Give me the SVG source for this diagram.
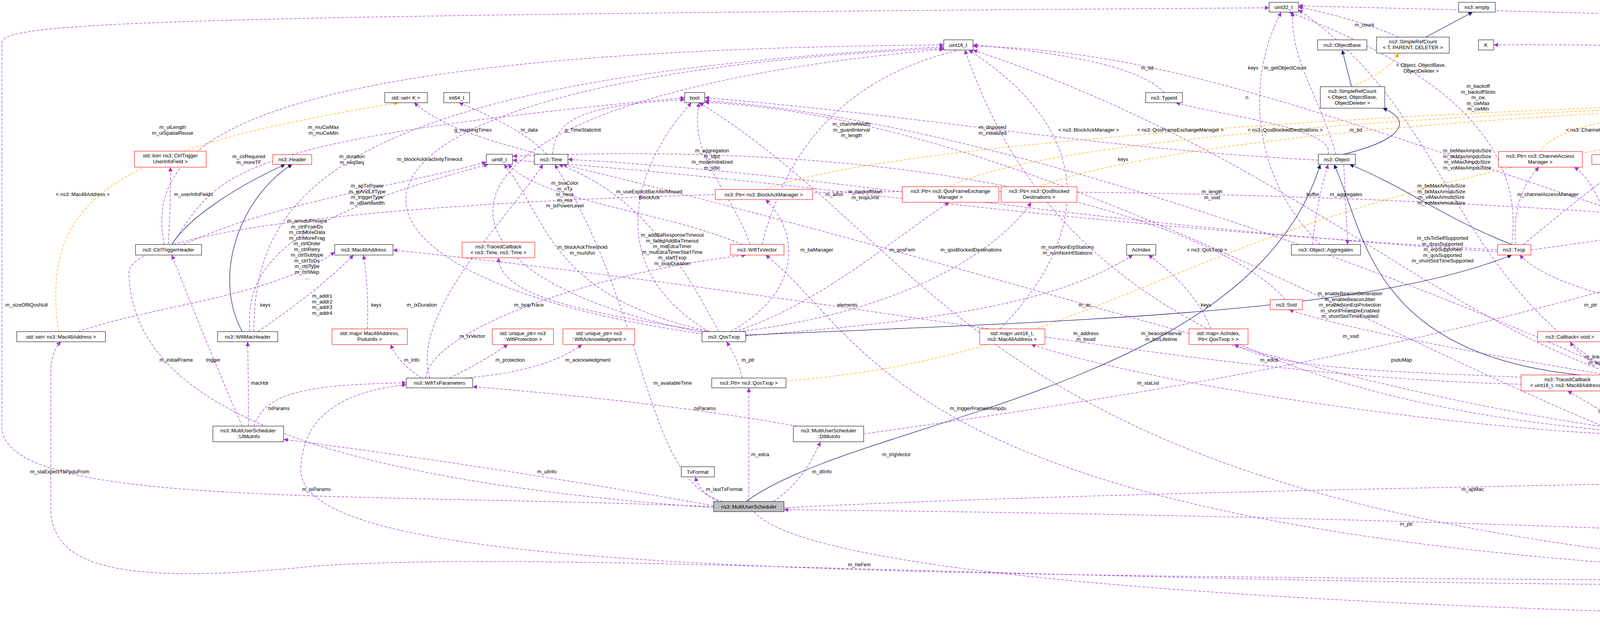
<svg xmlns="http://www.w3.org/2000/svg" width="6667" height="1613" viewBox="0 0 6667 1613">
<style>
text{font-family:"Liberation Sans",Arial,sans-serif;font-size:13px;fill:#000}
.nd text{text-anchor:middle}
.nd rect{fill:#fff;stroke:#333;stroke-width:1.3}
.rd rect{stroke:#ff2a2a}
.gr rect{fill:#bfbfbf}
.lb text{text-anchor:middle}
.p{fill:none;stroke:#9a32cd;stroke-width:1.2;stroke-dasharray:7,4;marker-end:url(#mp)}
.o{fill:none;stroke:#ffa500;stroke-width:1.2;stroke-dasharray:7,4;marker-end:url(#mo)}
.s{fill:none;stroke:#191970;stroke-width:1.3;marker-end:url(#ms)}
</style>
<defs>
<marker id="mp" viewBox="0 0 10 10" refX="10" refY="5" markerWidth="11" markerHeight="11" markerUnits="userSpaceOnUse" orient="auto"><path d="M0 0L10 5L0 10z" fill="#9a32cd"/></marker>
<marker id="mo" viewBox="0 0 10 10" refX="10" refY="5" markerWidth="11" markerHeight="11" markerUnits="userSpaceOnUse" orient="auto"><path d="M0 0L10 5L0 10z" fill="#ffa500"/></marker>
<marker id="ms" viewBox="0 0 10 10" refX="10" refY="5" markerWidth="11" markerHeight="11" markerUnits="userSpaceOnUse" orient="auto"><path d="M0 0L10 5L0 10z" fill="#191970"/></marker>
</defs>
<rect width="6667" height="1613" fill="#fff"/>
<g id="connectors">
<path class="p" d="M431 626Q438 497 436 428"/>
<path class="p" d="M420 626C380 400 500 130 2416 115"/>
<path class="p" d="M440 626C560 450 560 360 1753 250"/>
<path class="p" d="M470 626C700 520 1000 480 1245 415"/>
<path class="p" d="M640 849C620 650 800 540 1250 421"/>
<path class="p" d="M650 849C650 500 850 200 2416 120"/>
<path class="p" d="M660 849Q820 740 905 653"/>
<path class="p" d="M200 849C400 780 700 760 857 645"/>
<path class="p" d="M940 842Q945 760 931 653"/>
<path class="p" d="M1800 855C700 700 700 200 2416 124"/>
<path class="p" d="M1805 852C1000 700 1000 250 2416 126"/>
<path class="p" d="M1827 1297C900 1260 30 1300 5 1100L5 110C5 60 300 40 3249 20"/>
<path class="p" d="M1100 968C1050 800 1300 560 1390 421"/>
<path class="p" d="M1810 849C1500 800 1280 760 1276 660"/>
<path class="p" d="M1900 626C1700 540 1400 520 1300 421"/>
<path class="p" d="M1920 626C1880 500 1760 400 1790 263"/>
<path class="p" d="M1950 626C2000 450 2100 200 2491 120"/>
<path class="p" d="M1400 395Q1340 330 1175 263"/>
<path class="p" d="M1415 395C1420 300 1500 270 1753 255"/>
<path class="p" d="M1380 395C1300 370 1150 340 1060 263"/>
<path class="p" d="M1815 849C1560 700 1600 450 1770 263"/>
<path class="p" d="M1820 849C1400 760 1400 550 1290 421"/>
<path class="p" d="M1840 849C1760 700 1650 500 1430 421"/>
<path class="p" d="M1870 849C2050 750 2050 600 1960 511"/>
<path class="p" d="M3834 640C2500 560 2160 470 1312 410"/>
<path class="p" d="M3834 645C2600 560 2200 450 1454 408"/>
<path class="p" d="M3375 410C2800 380 2400 300 1804 250"/>
<path class="p" d="M3870 626C3900 400 3750 200 3300 31"/>
<path class="p" d="M1880 849C2100 780 2300 600 2430 518"/>
<path class="p" d="M1890 849C2300 800 2550 650 2640 518"/>
<path class="p" d="M4149 1105C2900 1000 2600 500 2470 128"/>
<path class="p" d="M1909 860C2400 820 2700 780 2900 653"/>
<path class="p" d="M3100 842Q3060 740 2940 653"/>
<path class="p" d="M2560 842C2700 700 2900 400 2480 128"/>
<path class="p" d="M2980 237Q2900 150 2491 115"/>
<path class="p" d="M3290 767C3150 600 2500 350 1312 400"/>
<path class="p" d="M4380 620C3400 300 3000 130 2491 118"/>
<path class="p" d="M3580 95Q3480 50 3324 18"/>
<path class="p" d="M3380 626C3200 450 3190 200 3280 31"/>
<path class="p" d="M3420 395C3380 250 3300 150 3310 31"/>
<path class="p" d="M3400 395C3420 330 3150 300 3010 263"/>
<path class="p" d="M3440 421Q3445 520 3450 626"/>
<path class="p" d="M3360 626Q3370 520 3400 421"/>
<path class="p" d="M4160 975C3700 700 3720 300 3324 25"/>
<path class="p" d="M4165 970C3650 800 3300 400 2491 128"/>
<path class="p" d="M4170 968C3600 700 2500 300 1804 258"/>
<path class="p" d="M4150 1110C3500 850 2600 300 1804 262"/>
<path class="p" d="M3880 626Q3870 500 3940 428"/>
<path class="p" d="M3900 626Q4050 500 4160 421"/>
<path class="p" d="M4680 849C4300 800 4000 760 3890 653"/>
<path class="p" d="M4180 968C4150 800 4140 500 4030 428"/>
<path class="p" d="M4220 968C4300 800 4260 550 4200 421"/>
<path class="p" d="M4449 620Q4449 520 4449 421"/>
<path class="p" d="M3919 640C4200 600 4550 560 4640 428"/>
<path class="p" d="M4263 975C4800 900 5450 800 5690 518"/>
<path class="p" d="M5190 237Q5400 180 5600 120"/>
<path class="p" d="M5995 240C5500 160 4500 110 3824 115"/>
<path class="p" d="M6000 230Q5850 170 5634 120"/>
<path class="p" d="M6290 968C6400 900 6442 800 6442 700L6442 120C6442 110 6000 80 3324 15"/>
<path class="p" d="M1090 968C1100 850 1500 700 1910 653"/>
<path class="p" d="M1150 968Q1230 930 1300 882"/>
<path class="p" d="M1190 968Q1400 950 1490 882"/>
<path class="p" d="M1080 968Q1020 930 1000 882"/>
<path class="p" d="M620 1091Q520 860 440 653"/>
<path class="p" d="M636 1091Q636 980 634 875"/>
<path class="p" d="M650 1091C680 1000 800 985 1040 980"/>
<path class="p" d="M1827 1300C700 1220 340 1000 330 700C320 380 6080 380 6080 1026"/>
<path class="p" d="M5263 1495C3000 1520 1500 1400 800 1450C300 1500 130 1450 130 1300L130 950C130 920 140 890 156 875"/>
<path class="p" d="M2040 1091Q1700 1030 1210 990"/>
<path class="p" d="M1827 1295Q1300 1200 726 1125"/>
<path class="p" d="M1980 1284Q2060 1230 2100 1131"/>
<path class="p" d="M1840 1284Q1790 1260 1780 1221"/>
<path class="p" d="M1917 1284Q1917 1140 1917 993"/>
<path class="p" d="M1900 968Q1890 920 1860 875"/>
<path class="p" d="M1850 1284C1650 1230 1660 800 1420 421"/>
<path class="p" d="M1930 1310C2050 1450 3000 1560 5260 1590"/>
<path class="p" d="M4149 1112C3800 1100 3000 1000 2640 882"/>
<path class="p" d="M4160 980C3700 950 3300 960 3160 882"/>
<path class="p" d="M4160 985C3200 1000 2500 800 1006 640"/>
<path class="p" d="M4160 1100C3400 1000 2600 700 1440 421"/>
<path class="p" d="M5263 1490C2500 1420 2500 700 1790 263"/>
<path class="p" d="M5263 1485C2300 1460 2270 900 1960 653"/>
<path class="p" d="M4165 968Q3500 860 3300 793"/>
<path class="p" d="M2211 1111C3000 1000 3600 900 4400 660"/>
<path class="p" d="M4190 968Q4050 930 4020 875"/>
<path class="p" d="M4220 968Q4180 920 4180 875"/>
<path class="p" d="M4170 1098Q4100 1050 4013 1001"/>
<path class="p" d="M2007 1300C3000 1250 4500 1240 5062 1215"/>
<path class="p" d="M5100 1195Q4800 1150 4272 1118"/>
<path class="p" d="M4962 1390Q3600 1320 2007 1305"/>
<path class="p" d="M5460 1478C5550 1400 5500 1300 5265 1221"/>
<path class="p" d="M4263 980Q4400 860 4550 793"/>
<path class="p" d="M4263 975Q4550 880 4780 801"/>
<path class="p" d="M4263 985Q4550 950 4700 875"/>
<path class="p" d="M4272 1100Q4600 1000 4720 875"/>
<path class="p" d="M4263 990Q4800 900 5050 793"/>
<path class="p" d="M4263 995Q5000 920 5250 793"/>
<path class="p" d="M4272 1105C5300 1000 5600 700 4750 428"/>
<path class="p" d="M4272 1108C5200 1050 5700 800 5920 533"/>
<path class="p" d="M5380 1478Q5280 1430 5100 1414"/>
<path class="p" d="M5400 1478Q5460 1440 5475 1407"/>
<path class="p" d="M5495 1485C5800 1450 5740 900 4500 660"/>
<path class="p" d="M5495 1488C6000 1450 6020 1150 6020 934"/>
<path class="p" d="M5495 1490C6100 1450 6120 1200 6120 1066"/>
<path class="p" d="M5495 1492C6250 1450 6262 1200 6262 993"/>
<path class="p" d="M4272 1112C5000 1100 5800 1000 6211 980"/>
<path class="p" d="M5379 1567L5379 1504"/>
<path class="p" d="M5263 1492C2500 1470 760 1500 770 1200C775 1050 900 1000 1040 985"/>
<path class="o" d="M150 849C100 500 300 380 1020 263"/>
<path class="o" d="M3460 222Q3560 180 3580 136"/>
<path class="o" d="M1960 485C2300 350 4000 260 5103 250"/>
<path class="o" d="M2430 478C2700 340 4000 270 5103 252"/>
<path class="o" d="M2660 478C3000 350 4000 275 5103 254"/>
<path class="o" d="M2012 975C3000 900 3050 400 5130 263"/>
<path class="o" d="M3944 388C4000 280 4500 260 5103 256"/>
<path class="o" d="M4185 396C4300 300 4700 265 5103 258"/>
<path class="o" d="M4450 396C4460 300 4800 265 5103 260"/>
<path class="o" d="M4600 388C4560 300 4800 270 5110 263"/>
<path class="o" d="M4560 767C4800 550 4950 350 5130 263"/>
<path class="o" d="M4800 761C4950 550 5100 350 5150 263"/>
<path class="o" d="M4520 620C5000 500 5600 380 6020 270"/>
<path class="o" d="M4780 849C5000 650 5300 450 5180 263"/>
<path class="o" d="M5100 767C5600 600 5700 300 5212 255"/>
<path class="o" d="M5300 767C5750 600 5800 300 5212 258"/>
<path class="o" d="M5700 478C5900 400 5900 280 5212 250"/>
<path class="o" d="M6039 470C6150 400 6180 330 6140 270"/>
<path class="o" d="M6030 908C5950 600 5900 300 5212 252"/>
<path class="o" d="M6140 1026C6200 700 6100 320 5212 254"/>
<path class="o" d="M5200 1195C5900 1000 5850 400 5212 249"/>
<path class="o" d="M5142 1380C5900 1100 6000 400 5212 247"/>
<path class="o" d="M5499 1580C6300 1560 6430 900 5212 245"/>
<path class="s" d="M440 626C480 560 600 480 730 421"/>
<path class="s" d="M620 849C540 700 620 500 748 421"/>
<path class="s" d="M3650 95L3770 31"/>
<path class="s" d="M3460 222L3436 128"/>
<path class="s" d="M3440 395C3620 350 3600 300 3540 277"/>
<path class="s" d="M3870 626C3700 560 3600 480 3455 421"/>
<path class="s" d="M1909 858C2800 820 3500 800 3870 653"/>
<path class="s" d="M4170 968C3500 950 3500 600 3415 421"/>
<path class="s" d="M4210 1098L4210 993"/>
<path class="s" d="M1910 1284C2200 1070 3200 1000 3380 421"/>
<path class="s" d="M5345 1478L5283 1407"/>
</g>
<g class="lb">
<text x="495" y="502">m_userInfoFields</text>
<text x="442" y="330"><tspan x="442">m_ulLength</tspan><tspan x="442" dy="14.5">m_ulSpatialReuse</tspan></text>
<text x="637" y="405"><tspan x="637">m_csRequired</tspan><tspan x="637" dy="14.5">m_moreTF</tspan></text>
<text x="940" y="480"><tspan x="940">m_apTxPower</tspan><tspan x="940" dy="14.5">m_giAndLtfType</tspan><tspan x="940" dy="14.5">m_triggerType</tspan><tspan x="940" dy="14.5">m_ulBandwidth</tspan></text>
<text x="786" y="570"><tspan x="786">m_amsduPresent</tspan><tspan x="786" dy="14.5">m_ctrlFromDs</tspan><tspan x="786" dy="14.5">m_ctrlMoreData</tspan><tspan x="786" dy="14.5">m_ctrlMoreFrag</tspan><tspan x="786" dy="14.5">m_ctrlOrder</tspan><tspan x="786" dy="14.5">m_ctrlRetry</tspan><tspan x="786" dy="14.5">m_ctrlSubtype</tspan><tspan x="786" dy="14.5">m_ctrlToDs</tspan><tspan x="786" dy="14.5">m_ctrlType</tspan><tspan x="786" dy="14.5">m_ctrlWep</tspan><tspan x="786" dy="14.5">...</tspan></text>
<text x="901" y="405"><tspan x="901">m_duration</tspan><tspan x="901" dy="14.5">m_seqSeq</tspan></text>
<text x="825" y="762"><tspan x="825">m_addr1</tspan><tspan x="825" dy="14.5">m_addr2</tspan><tspan x="825" dy="14.5">m_addr3</tspan><tspan x="825" dy="14.5">m_addr4</tspan></text>
<text x="679" y="785">keys</text>
<text x="963" y="785">keys</text>
<text x="828" y="330"><tspan x="828">m_muCwMax</tspan><tspan x="828" dy="14.5">m_muCwMin</tspan></text>
<text x="1100" y="412">m_blockAckInactivityTimeout</text>
<text x="68" y="785">m_sizeOf8QosNull</text>
<text x="1080" y="785">m_txDuration</text>
<text x="1354" y="785">m_txopTrace</text>
<text x="1446" y="473"><tspan x="1446">m_bssColor</tspan><tspan x="1446" dy="14.5">m_nTx</tspan><tspan x="1446" dy="14.5">m_ness</tspan><tspan x="1446" dy="14.5">m_nss</tspan><tspan x="1446" dy="14.5">m_txPowerLevel</tspan></text>
<text x="1823" y="390"><tspan x="1823">m_aggregation</tspan><tspan x="1823" dy="14.5">m_ldpc</tspan><tspan x="1823" dy="14.5">m_modeInitialized</tspan><tspan x="1823" dy="14.5">m_stbc</tspan></text>
<text x="2180" y="322"><tspan x="2180">m_channelWidth</tspan><tspan x="2180" dy="14.5">m_guardInterval</tspan><tspan x="2180" dy="14.5">m_length</tspan></text>
<text x="1355" y="337">m_data</text>
<text x="1492" y="337">g_TimeStaticInit</text>
<text x="1211" y="337">g_markingTimes</text>
<text x="1662" y="495"><tspan x="1662">m_useExplicitBarAfterMissed</tspan><tspan x="1662" dy="14.5">BlockAck</tspan></text>
<text x="1491" y="637"><tspan x="1491">m_blockAckThreshold</tspan><tspan x="1491" dy="14.5">m_muAifsn</tspan></text>
<text x="1721" y="606"><tspan x="1721">m_addBaResponseTimeout</tspan><tspan x="1721" dy="14.5">m_failedAddBaTimeout</tspan><tspan x="1721" dy="14.5">m_muEdcaTimer</tspan><tspan x="1721" dy="14.5">m_muEdcaTimerStartTime</tspan><tspan x="1721" dy="14.5">m_startTxop</tspan><tspan x="1721" dy="14.5">m_txopDuration</tspan></text>
<text x="2091" y="644">m_baManager</text>
<text x="2136" y="502">m_aifsn</text>
<text x="2215" y="495"><tspan x="2215">m_backoffStart</tspan><tspan x="2215" dy="14.5">m_txopLimit</tspan></text>
<text x="2169" y="785">elements</text>
<text x="2541" y="330"><tspan x="2541">m_disposed</tspan><tspan x="2541" dy="14.5">m_initialized</tspan></text>
<text x="3784" y="225"><tspan x="3784">m_backoff</tspan><tspan x="3784" dy="14.5">m_backoffSlots</tspan><tspan x="3784" dy="14.5">m_cw</tspan><tspan x="3784" dy="14.5">m_cwMax</tspan><tspan x="3784" dy="14.5">m_cwMin</tspan></text>
<text x="2310" y="644">m_qosFem</text>
<text x="2486" y="644">m_qosBlockedDestinations</text>
<text x="2733" y="637"><tspan x="2733">m_numNonErpStations</tspan><tspan x="2733" dy="14.5">m_numNonHtStations</tspan></text>
<text x="2777" y="785">m_ac</text>
<text x="3087" y="785">keys</text>
<text x="2875" y="412">keys</text>
<text x="2937" y="178">m_tid</text>
<text x="3103" y="495"><tspan x="3103">m_length</tspan><tspan x="3103" dy="14.5">m_ssid</tspan></text>
<text x="3208" y="178">keys</text>
<text x="3493" y="68">m_count</text>
<text x="3192" y="254">n</text>
<text x="3290" y="178">m_getObjectCount</text>
<text x="3471" y="337">m_tid</text>
<text x="3446" y="502">m_aggregates</text>
<text x="3361" y="502">buffer</text>
<text x="3756" y="390"><tspan x="3756">m_beMaxAmpduSize</tspan><tspan x="3756" dy="14.5">m_bkMaxAmpduSize</tspan><tspan x="3756" dy="14.5">m_viMaxAmpduSize</tspan><tspan x="3756" dy="14.5">m_voMaxAmpduSize</tspan></text>
<text x="3690" y="480"><tspan x="3690">m_beMaxAmsduSize</tspan><tspan x="3690" dy="14.5">m_bkMaxAmsduSize</tspan><tspan x="3690" dy="14.5">m_viMaxAmsduSize</tspan><tspan x="3690" dy="14.5">m_voMaxAmsduSize</tspan></text>
<text x="3693" y="614"><tspan x="3693">m_ctsToSelfSupported</tspan><tspan x="3693" dy="14.5">m_dsssSupported</tspan><tspan x="3693" dy="14.5">m_erpSupported</tspan><tspan x="3693" dy="14.5">m_qosSupported</tspan><tspan x="3693" dy="14.5">m_shortSlotTimeSupported</tspan></text>
<text x="3456" y="756"><tspan x="3456">m_enableBeaconGeneration</tspan><tspan x="3456" dy="14.5">m_enableBeaconJitter</tspan><tspan x="3456" dy="14.5">m_enableNonErpProtection</tspan><tspan x="3456" dy="14.5">m_shortPreambleEnabled</tspan><tspan x="3456" dy="14.5">m_shortSlotTimeEnabled</tspan></text>
<text x="3963" y="502">m_channelAccessManager</text>
<text x="4169" y="502">m_txMiddle</text>
<text x="4072" y="785">m_ptr</text>
<text x="4218" y="785">m_channelAccessManager</text>
<text x="4358" y="785">m_txMiddle</text>
<text x="4472" y="502">elements</text>
<text x="4641" y="502">m_rng</text>
<text x="5555" y="785">m_stationManager</text>
<text x="5476" y="178">m_ptr</text>
<text x="5730" y="178">keys</text>
<text x="5890" y="178">elements</text>
<text x="6480" y="405"><tspan x="6480">m_context</tspan><tspan x="6480" dy="14.5">m_uid</tspan></text>
<text x="1209" y="865">m_txVector</text>
<text x="1306" y="926">m_protection</text>
<text x="1505" y="926">m_acknowledgment</text>
<text x="1054" y="926">m_info</text>
<text x="451" y="926">m_initialFrame</text>
<text x="546" y="926">trigger</text>
<text x="665" y="985">macHdr</text>
<text x="714" y="1050">txParams</text>
<text x="153" y="1212">m_staExpectTbPpduFrom</text>
<text x="810" y="1257">m_txParams</text>
<text x="1805" y="1050">txParams</text>
<text x="1400" y="1212">m_ulInfo</text>
<text x="2104" y="1212">m_dlInfo</text>
<text x="1854" y="1257">m_lastTxFormat</text>
<text x="1946" y="1168">m_edca</text>
<text x="1915" y="926">m_ptr</text>
<text x="1722" y="985">m_availableTime</text>
<text x="2200" y="1450">m_heFem</text>
<text x="2939" y="985">m_staList</text>
<text x="3249" y="926">m_edca</text>
<text x="2780" y="858"><tspan x="2780">m_address</tspan><tspan x="2780" dy="14.5">m_bssid</tspan></text>
<text x="2973" y="858"><tspan x="2973">m_beaconInterval</tspan><tspan x="2973" dy="14.5">m_bsrLifetime</tspan></text>
<text x="2504" y="1050">m_triggerFrameInAmpdu</text>
<text x="2295" y="1168">m_trigVector</text>
<text x="3458" y="865">m_ssid</text>
<text x="3588" y="926">psduMap</text>
<text x="4093" y="918"><tspan x="4093">m_linkDown</tspan><tspan x="4093" dy="14.5">m_linkUp</tspan></text>
<text x="4204" y="926">m_typeOfStation</text>
<text x="4146" y="1043"><tspan x="4146">m_assocLogger</tspan><tspan x="4146" dy="14.5">m_deAssocLogger</tspan></text>
<text x="3770" y="1257">m_apMac</text>
<text x="4795" y="1168">m_ptr</text>
<text x="3600" y="1346">m_ptr</text>
<text x="5555" y="1346">m_apMac</text>
<text x="4420" y="865">m_rxMiddle</text>
<text x="4583" y="865">m_feManager</text>
<text x="4653" y="926">m_txop</text>
<text x="4698" y="985">m_beaconTxop</text>
<text x="4949" y="865">m_device</text>
<text x="5134" y="865">m_phy</text>
<text x="5530" y="865">m_beaconJitter</text>
<text x="5730" y="865">m_bufferStatus</text>
<text x="5269" y="1450">m_muScheduler</text>
<text x="5481" y="1450">m_muSnrTag</text>
<text x="5728" y="1168">m_psduMap</text>
<text x="6049" y="1212">m_staMac</text>
<text x="6176" y="1257">m_triggerFrame</text>
<text x="6331" y="1257">m_multiStaBaEvent</text>
<text x="5977" y="1050">m_beaconEvent</text>
<text x="5401" y="1541">m_ptr</text>
<text x="212" y="502">&lt; ns3::Mac48Address &gt;</text>
<text x="3638" y="171"><tspan x="3638">&lt; Object, ObjectBase,</tspan><tspan x="3638" dy="14.5">ObjectDeleter &gt;</tspan></text>
<text x="2787" y="337">&lt; ns3::BlockAckManager &gt;</text>
<text x="3022" y="337">&lt; ns3::QosFrameExchangeManager &gt;</text>
<text x="3290" y="337">&lt; ns3::QosBlockedDestinations &gt;</text>
<text x="3090" y="644">&lt; ns3::QosTxop &gt;</text>
<text x="4105" y="337">&lt; ns3::ChannelAccessManager &gt;</text>
<text x="4372" y="337">&lt; ns3::MacTxMiddle &gt;</text>
<text x="4520" y="337">&lt; WifiPsdu &gt;</text>
<text x="4696" y="337">&lt; ns3::UniformRandomVariable &gt;</text>
<text x="4925" y="412">&lt; ns3::MacRxMiddle &gt;</text>
<text x="5159" y="412">&lt; ns3::FrameExchangeManager &gt;</text>
<text x="5480" y="412">&lt; uint16_t, Ptr&lt; WifiPsdu &gt; &gt;</text>
<text x="5310" y="502">&lt; ns3::Txop &gt;</text>
<text x="5661" y="412">&lt; ns3::WifiNetDevice &gt;</text>
<text x="5816" y="412">&lt; ns3::WifiPhy &gt;</text>
<text x="5929" y="330"><tspan x="5929">&lt; ns3::WifiRemoteStation</tspan><tspan x="5929" dy="14.5">Manager &gt;</tspan></text>
<text x="6280" y="322"><tspan x="6280">&lt; WifiAddressTidPair,</tspan><tspan x="6280" dy="14.5">ns3::ApWifiMac::bsrType,</tspan><tspan x="6280" dy="14.5">ns3::WifiAddressTidHash &gt;</tspan></text>
<text x="5820" y="502">&lt; ns3::StaWifiMac &gt;</text>
<text x="6279" y="644">&lt; ns3::WifiMacQueueItem &gt;</text>
<text x="5868" y="865">&lt; ns3::ApWifiMac &gt;</text>
<text x="5912" y="985">&lt; ns3::MultiUserScheduler &gt;</text>
<text x="6550" y="1116">&lt; ns3::HeFrameExchangeManager &gt;</text>
</g>
<g id="n_setK" class="nd"><rect x="985" y="237" width="109" height="26"/><text x="1039" y="255">std::set&lt; K &gt;</text></g>
<g id="n_listUIF" class="nd rd"><rect x="344" y="387" width="184" height="41"/><text x="436" y="403">std::list&lt; ns3::CtrlTrigger</text><text x="436" y="418">UserInfoField &gt;</text></g>
<g id="n_header" class="nd rd"><rect x="698" y="396" width="100" height="25"/><text x="748" y="413">ns3::Header</text></g>
<g id="n_ctrlTH" class="nd"><rect x="347" y="626" width="169" height="27"/><text x="431" y="644">ns3::CtrlTriggerHeader</text></g>
<g id="n_mac48" class="nd"><rect x="857" y="626" width="149" height="27"/><text x="931" y="644">ns3::Mac48Address</text></g>
<g id="n_int64" class="nd"><rect x="1136" y="237" width="66" height="26"/><text x="1169" y="255">int64_t</text></g>
<g id="n_bool" class="nd"><rect x="1753" y="237" width="51" height="26"/><text x="1778" y="255">bool</text></g>
<g id="n_uint8" class="nd"><rect x="1245" y="395" width="67" height="26"/><text x="1278" y="413">uint8_t</text></g>
<g id="n_time" class="nd"><rect x="1368" y="395" width="86" height="26"/><text x="1411" y="413">ns3::Time</text></g>
<g id="n_tcTime" class="nd rd"><rect x="1183" y="620" width="186" height="40"/><text x="1276" y="636">ns3::TracedCallback</text><text x="1276" y="651">&lt; ns3::Time, ns3::Time &gt;</text></g>
<g id="n_wtxv" class="nd rd"><rect x="1870" y="626" width="137" height="27"/><text x="1938" y="644">ns3::WifiTxVector</text></g>
<g id="n_ptrBAM" class="nd rd"><rect x="1831" y="485" width="249" height="26"/><text x="1955" y="503">ns3::Ptr&lt; ns3::BlockAckManager &gt;</text></g>
<g id="n_uint32" class="nd"><rect x="3249" y="6" width="75" height="25"/><text x="3286" y="23">uint32_t</text></g>
<g id="n_uint16" class="nd"><rect x="2416" y="102" width="75" height="26"/><text x="2453" y="120">uint16_t</text></g>
<g id="n_typeid" class="nd"><rect x="2933" y="237" width="94" height="26"/><text x="2980" y="255">ns3::TypeId</text></g>
<g id="n_ptrQFEM" class="nd rd"><rect x="2310" y="478" width="247" height="40"/><text x="2433" y="494">ns3::Ptr&lt; ns3::QosFrameExchange</text><text x="2433" y="509">Manager &gt;</text></g>
<g id="n_ptrQBD" class="nd rd"><rect x="2563" y="478" width="194" height="40"/><text x="2660" y="494">ns3::Ptr&lt; ns3::QosBlocked</text><text x="2660" y="509">Destinations &gt;</text></g>
<g id="n_acindex" class="nd"><rect x="2884" y="626" width="75" height="27"/><text x="2921" y="644">AcIndex</text></g>
<g id="n_ssid" class="nd rd"><rect x="3252" y="767" width="82" height="26"/><text x="3293" y="785">ns3::Ssid</text></g>
<g id="n_aggr" class="nd"><rect x="3306" y="626" width="177" height="27"/><text x="3394" y="644">ns3::Object::Aggregates</text></g>
<g id="n_empty" class="nd"><rect x="3734" y="6" width="94" height="25"/><text x="3781" y="23">ns3::empty</text></g>
<g id="n_objbase" class="nd"><rect x="3373" y="102" width="126" height="26"/><text x="3436" y="120">ns3::ObjectBase</text></g>
<g id="n_srcT" class="nd"><rect x="3524" y="95" width="186" height="41"/><text x="3617" y="111">ns3::SimpleRefCount</text><text x="3617" y="126">&lt; T, PARENT, DELETER &gt;</text></g>
<g id="n_K" class="nd"><rect x="3785" y="102" width="39" height="26"/><text x="3804" y="120">K</text></g>
<g id="n_srcObj" class="nd"><rect x="3380" y="222" width="165" height="55"/><text x="3462" y="238">ns3::SimpleRefCount</text><text x="3462" y="253">&lt; Object, ObjectBase,</text><text x="3462" y="268">ObjectDeleter &gt;</text></g>
<g id="n_object" class="nd"><rect x="3375" y="395" width="95" height="26"/><text x="3422" y="413">ns3::Object</text></g>
<g id="n_ptrCAM" class="nd rd"><rect x="3836" y="388" width="215" height="40"/><text x="3943" y="404">ns3::Ptr&lt; ns3::ChannelAccess</text><text x="3943" y="419">Manager &gt;</text></g>
<g id="n_ptrMTM" class="nd rd"><rect x="4075" y="396" width="219" height="25"/><text x="4184" y="413">ns3::Ptr&lt; ns3::MacTxMiddle &gt;</text></g>
<g id="n_ptrPsdu" class="nd rd"><rect x="4370" y="396" width="158" height="25"/><text x="4449" y="413">ns3::Ptr&lt; WifiPsdu &gt;</text></g>
<g id="n_txop" class="nd rd"><rect x="3834" y="626" width="85" height="27"/><text x="3876" y="644">ns3::Txop</text></g>
<g id="n_umPsdu" class="nd"><rect x="4340" y="620" width="218" height="40"/><text x="4449" y="636">std::unordered_map</text><text x="4449" y="651">&lt; uint16_t, Ptr&lt; WifiPsdu &gt; &gt;</text></g>
<g id="n_ptrT" class="nd"><rect x="5103" y="237" width="109" height="26"/><text x="5157" y="255">ns3::Ptr&lt; T &gt;</text></g>
<g id="n_ptrURV" class="nd rd"><rect x="4553" y="388" width="224" height="40"/><text x="4665" y="404">ns3::Ptr&lt; ns3::UniformRandom</text><text x="4665" y="419">Variable &gt;</text></g>
<g id="n_ptrMRM" class="nd rd"><rect x="4451" y="767" width="220" height="26"/><text x="4561" y="785">ns3::Ptr&lt; ns3::MacRxMiddle &gt;</text></g>
<g id="n_ptrFEM" class="nd rd"><rect x="4679" y="761" width="220" height="40"/><text x="4789" y="777">ns3::Ptr&lt; ns3::FrameExchange</text><text x="4789" y="792">Manager &gt;</text></g>
<g id="n_ptrWND" class="nd rd"><rect x="4940" y="767" width="226" height="26"/><text x="5053" y="785">ns3::Ptr&lt; ns3::WifiNetDevice &gt;</text></g>
<g id="n_ptrPhy" class="nd rd"><rect x="5174" y="767" width="182" height="26"/><text x="5265" y="785">ns3::Ptr&lt; ns3::WifiPhy &gt;</text></g>
<g id="n_T" class="nd"><rect x="5595" y="102" width="39" height="26"/><text x="5614" y="120">T</text></g>
<g id="n_umKT" class="nd"><rect x="5995" y="230" width="153" height="40"/><text x="6071" y="246">std::unordered_map</text><text x="6071" y="261">&lt; K, T &gt;</text></g>
<g id="n_ptrRSM" class="nd rd"><rect x="5601" y="478" width="194" height="40"/><text x="5698" y="494">ns3::Ptr&lt; ns3::WifiRemote</text><text x="5698" y="509">StationManager &gt;</text></g>
<g id="n_umBsr" class="nd rd"><rect x="5836" y="464" width="203" height="69"/><text x="5937" y="480">std::unordered_map</text><text x="5937" y="494">&lt; WifiAddressTidPair,</text><text x="5937" y="509">ns3::ApWifiMac::bsrType,</text><text x="5937" y="523">ns3::WifiAddressTidHash &gt;</text></g>
<g id="n_setMac" class="nd"><rect x="43" y="849" width="227" height="26"/><text x="156" y="867">std::set&lt; ns3::Mac48Address &gt;</text></g>
<g id="n_wmh" class="nd"><rect x="557" y="849" width="154" height="26"/><text x="634" y="867">ns3::WifiMacHeader</text></g>
<g id="n_mapPsdu" class="nd rd"><rect x="850" y="842" width="193" height="40"/><text x="946" y="858">std::map&lt; Mac48Address,</text><text x="946" y="873">PsduInfo &gt;</text></g>
<g id="n_wtp" class="nd"><rect x="1040" y="968" width="170" height="25"/><text x="1125" y="985">ns3::WifiTxParameters</text></g>
<g id="n_ulmu" class="nd"><rect x="545" y="1091" width="181" height="40"/><text x="635" y="1107">ns3::MultiUserScheduler</text><text x="635" y="1122">::UlMuInfo</text></g>
<g id="n_upProt" class="nd rd"><rect x="1260" y="842" width="157" height="40"/><text x="1338" y="858">std::unique_ptr&lt; ns3</text><text x="1338" y="873">::WifiProtection &gt;</text></g>
<g id="n_upAck" class="nd rd"><rect x="1441" y="842" width="184" height="40"/><text x="1533" y="858">std::unique_ptr&lt; ns3</text><text x="1533" y="873">::WifiAcknowledgment &gt;</text></g>
<g id="n_qostxop" class="nd"><rect x="1797" y="849" width="112" height="26"/><text x="1853" y="867">ns3::QosTxop</text></g>
<g id="n_ptrQT" class="nd"><rect x="1822" y="968" width="190" height="25"/><text x="1917" y="985">ns3::Ptr&lt; ns3::QosTxop &gt;</text></g>
<g id="n_dlmu" class="nd"><rect x="2031" y="1091" width="180" height="40"/><text x="2121" y="1107">ns3::MultiUserScheduler</text><text x="2121" y="1122">::DlMuInfo</text></g>
<g id="n_txformat" class="nd"><rect x="1744" y="1195" width="85" height="26"/><text x="1786" y="1213">TxFormat</text></g>
<g id="n_mus" class="nd gr"><rect x="1827" y="1284" width="180" height="26"/><text x="1917" y="1302">ns3::MultiUserScheduler</text></g>
<g id="n_mapSta" class="nd rd"><rect x="2508" y="842" width="167" height="40"/><text x="2591" y="858">std::map&lt; uint16_t,</text><text x="2591" y="873">ns3::Mac48Address &gt;</text></g>
<g id="n_mapEdca" class="nd rd"><rect x="3044" y="842" width="151" height="40"/><text x="3119" y="858">std::map&lt; AcIndex,</text><text x="3119" y="873">Ptr&lt; QosTxop &gt; &gt;</text></g>
<g id="n_cbVoid" class="nd rd"><rect x="3936" y="849" width="167" height="26"/><text x="4019" y="867">ns3::Callback&lt; void &gt;</text></g>
<g id="n_tos" class="nd"><rect x="4127" y="849" width="114" height="26"/><text x="4184" y="867">TypeOfStation</text></g>
<g id="n_tcAssoc" class="nd rd"><rect x="3894" y="960" width="238" height="41"/><text x="4013" y="976">ns3::TracedCallback</text><text x="4013" y="991">&lt; uint16_t, ns3::Mac48Address &gt;</text></g>
<g id="n_wifimac" class="nd rd"><rect x="4157" y="968" width="106" height="25"/><text x="4210" y="985">ns3::WifiMac</text></g>
<g id="n_apwm" class="nd"><rect x="4149" y="1098" width="123" height="26"/><text x="4210" y="1116">ns3::ApWifiMac</text></g>
<g id="n_ptrTxop" class="nd"><rect x="4639" y="849" width="164" height="26"/><text x="4721" y="867">ns3::Ptr&lt; ns3::Txop &gt;</text></g>
<g id="n_ptrAp" class="nd"><rect x="5062" y="1195" width="203" height="26"/><text x="5163" y="1213">ns3::Ptr&lt; ns3::ApWifiMac &gt;</text></g>
<g id="n_ptrMUS" class="nd"><rect x="4962" y="1374" width="180" height="40"/><text x="5052" y="1390">ns3::Ptr&lt; ns3::MultiUser</text><text x="5052" y="1405">Scheduler &gt;</text></g>
<g id="n_vht" class="nd rd"><rect x="5165" y="1381" width="235" height="26"/><text x="5282" y="1399">ns3::VhtFrameExchangeManager</text></g>
<g id="n_musnr" class="nd rd"><rect x="5425" y="1381" width="117" height="26"/><text x="5483" y="1399">ns3::MuSnrTag</text></g>
<g id="n_hefem" class="nd"><rect x="5263" y="1478" width="232" height="26"/><text x="5379" y="1496">ns3::HeFrameExchangeManager</text></g>
<g id="n_ptrHe" class="nd"><rect x="5260" y="1567" width="239" height="40"/><text x="5379" y="1583">ns3::Ptr&lt; ns3::HeFrameExchange</text><text x="5379" y="1598">Manager &gt;</text></g>
<g id="n_ptrSta" class="nd rd"><rect x="5918" y="908" width="206" height="26"/><text x="6021" y="926">ns3::Ptr&lt; ns3::StaWifiMac &gt;</text></g>
<g id="n_eventid" class="nd rd"><rect x="6211" y="968" width="103" height="25"/><text x="6262" y="985">ns3::EventId</text></g>
<g id="n_ptrMQI" class="nd rd"><rect x="6031" y="1026" width="212" height="40"/><text x="6137" y="1042">ns3::Ptr&lt; ns3::WifiMacQueue</text><text x="6137" y="1057">Item &gt;</text></g>
</svg>
